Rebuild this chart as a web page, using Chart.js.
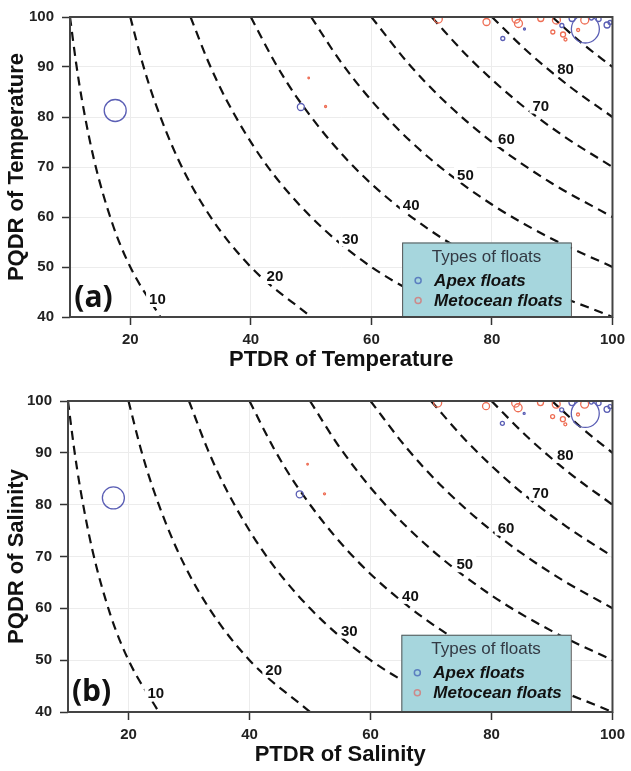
<!DOCTYPE html>
<html>
<head>
<meta charset="utf-8">
<script src="https://cdn.jsdelivr.net/npm/chart.js@4.4.1/dist/chart.umd.min.js"></script>
<style>
body { margin: 0; background: #fff; }
.panel { position: relative; width: 631px; }
canvas { display: block; }
</style>
</head>
<body>
<div class="panel"><canvas id="chartA" width="631" height="378"></canvas></div>
<div class="panel"><canvas id="chartB" width="631" height="393"></canvas></div>
<script>
var xTicks = [20, 40, 60, 80, 100];
var yTicks = [40, 50, 60, 70, 80, 90, 100];

// dashed iso-lines, points
var contourLevels = [10, 20, 30, 40, 50, 60, 70, 80, 90];
var contourX = [
    [10, 11, 12, 14, 17, 20, 25],
    [20, 22, 24, 28, 33, 40, 50],
    [30, 33, 36, 42, 50, 60, 75],
    [40, 44, 48, 56, 66, 80, 100],
    [50, 55, 62, 70, 80, 90, 100],
    [60, 66, 72, 80, 90, 100],
    [70, 76, 84, 92, 100],
    [80, 86, 93, 100],
    [90, 95, 100]
];
var contourY = [
    [100, 90.9, 83.3, 71.4, 58.8, 50, 40],
    [100, 90.9, 83.3, 71.4, 60.6, 50, 40],
    [100, 90.9, 83.3, 71.4, 60, 50, 40],
    [100, 90.9, 83.3, 71.4, 60.6, 50, 40],
    [100, 90.9, 80.6, 71.4, 62.5, 55.6, 50],
    [100, 90.9, 83.3, 75, 66.7, 60],
    [100, 92.1, 83.3, 76.1, 70],
    [100, 93, 86, 80],
    [100, 94.7, 90]
];
var contourLabels = ['10', '20', '30', '40', '50', '60', '70', '80'];
var contourLabelX = [24.5, 44, 56.5, 66.6, 75.6, 82.4, 88.1, 92.2];
var contourLabelY = [43.6, 48.2, 55.7, 62.4, 68.5, 75.6, 82.3, 89.6];

// Apex floats
var apexX = [17.5, 48.3, 81.8, 85.4, 95.5, 93.3, 97.7, 99.1, 99.6, 91.6, 96.5];
var apexY = [81.3, 82.0, 95.7, 97.6, 97.6, 99.7, 99.6, 98.4, 98.9, 98.3, 99.8];
var apexSize = [11, 3.5, 2, 1, 14, 3, 2.5, 3, 2, 2, 2];

// Metocean floats
var metoX = [49.6, 52.4, 71.1, 79.1, 84.0, 84.4, 88.1, 90.7, 90.1, 91.8, 92.2, 94.3, 95.4];
var metoY = [87.8, 82.1, 99.6, 99.0, 99.6, 98.7, 99.7, 99.4, 97.0, 96.5, 95.5, 97.4, 99.4];
var metoSize = [0.8, 1, 4, 3.5, 4, 4, 3, 4, 2, 2.5, 1.5, 1.5, 4];

var FONT = '"Liberation Sans", Arial, sans-serif';
var legendBox = [65.1, 93.1, 40, 54.9];
var letterPos = [13.9, 43.7];

function points(xs, ys, rs) {
    return xs.map(function (x, i) {
        var p = { x: x, y: ys[i] };
        if (rs) p.r = rs[i];
        return p;
    });
}

var overlay = {
    id: 'overlay',
    afterDatasetsDraw: function (chart, args, opts) {
        var ctx = chart.ctx, xs = chart.scales.x, ys = chart.scales.y, a = chart.chartArea;
        ctx.save();

        // contour labels
        ctx.font = 'bold 15px ' + FONT;
        ctx.textAlign = 'center';
        ctx.textBaseline = 'middle';
        contourLabels.forEach(function (t, i) {
            var px = xs.getPixelForValue(contourLabelX[i]);
            var py = ys.getPixelForValue(contourLabelY[i]);
            var w = ctx.measureText(t).width;
            ctx.fillStyle = '#fff';
            ctx.fillRect(px - w / 2 - 3, py - 8, w + 6, 16);
            ctx.fillStyle = '#111';
            ctx.fillText(t, px, py + 1);
        });

        // legend
        var l = xs.getPixelForValue(legendBox[0]), r = xs.getPixelForValue(legendBox[1]);
        var t = ys.getPixelForValue(legendBox[3]), b = ys.getPixelForValue(legendBox[2]);
        ctx.fillStyle = '#a6d6dd';
        ctx.fillRect(l, t, r - l, b - t);
        ctx.strokeStyle = '#555';
        ctx.lineWidth = 1;
        ctx.strokeRect(l + 0.5, t + 0.5, r - l, b - t);
        ctx.fillStyle = '#333a44';
        ctx.font = '17px ' + FONT;
        ctx.fillText('Types of floats', (l + r) / 2, t + 15);
        var items = [['Apex floats', '#5b7fc0'], ['Metocean floats', '#cc8a8a']];
        items.forEach(function (it, i) {
            var yy = t + 38 + i * 20;
            ctx.beginPath();
            ctx.arc(l + 16, yy, 3, 0, Math.PI * 2);
            ctx.strokeStyle = it[1];
            ctx.lineWidth = 1.5;
            ctx.stroke();
            ctx.fillStyle = '#111';
            ctx.textAlign = 'left';
            ctx.font = 'italic bold 17px ' + FONT;
            ctx.fillText(it[0], l + 32, yy + 1);
        });

        // frame
        ctx.strokeStyle = '#444';
        ctx.lineWidth = 2;
        ctx.strokeRect(a.left, a.top, a.right - a.left, a.bottom - a.top);

        // panel letter
        ctx.fillStyle = '#111';
        ctx.textAlign = 'center';
        ctx.font = 'bold 30px "Open Sans", sans-serif';
        ctx.fillText(opts.letter, xs.getPixelForValue(letterPos[0]), ys.getPixelForValue(letterPos[1]));
        ctx.restore();
    }
};

function makeChart(id, letter, xTitle, yTitle, lay) {
    var datasets = contourLevels.map(function (lev, i) {
        return {
            type: 'line',
            label: 'level ' + lev,
            data: points(contourX[i], contourY[i]),
            borderColor: '#111',
            borderWidth: 2.2,
            borderDash: [9, 6],
            pointRadius: 0,
            cubicInterpolationMode: 'monotone',
            fill: false,
            order: 3
        };
    });
    datasets.push({
        type: 'bubble',
        label: 'Metocean floats',
        data: points(metoX, metoY, metoSize),
        backgroundColor: 'rgba(0,0,0,0)',
        borderColor: '#ee6e55',
        borderWidth: 1.3,
        clip: 0,
        order: 1
    });
    datasets.push({
        type: 'bubble',
        label: 'Apex floats',
        data: points(apexX, apexY, apexSize),
        backgroundColor: 'rgba(0,0,0,0)',
        borderColor: '#5b5fb5',
        borderWidth: 1.3,
        clip: 0,
        order: 1
    });

    return new Chart(document.getElementById(id), {
        type: 'scatter',
        data: { datasets: datasets },
        plugins: [overlay],
        options: {
            responsive: false,
            animation: false,
            layout: { padding: { top: lay.top, right: lay.right, left: 0, bottom: 0 } },
            plugins: {
                legend: { display: false },
                tooltip: { enabled: false },
                overlay: { letter: letter }
            },
            scales: {
                x: {
                    type: 'linear',
                    min: 10,
                    max: 100,
                    afterBuildTicks: function (s) { s.ticks = xTicks.map(function (v) { return { value: v }; }); },
                    afterFit: function (s) { s.height = lay.xh; },
                    grid: { color: '#ececec', tickColor: '#333', tickLength: 8, tickWidth: 1.5 },
                    border: { display: false },
                    ticks: { font: { family: FONT, size: 15, weight: 'bold' }, color: '#222', padding: 6, maxRotation: 0 },
                    title: { display: true, text: xTitle, color: '#111', font: { family: FONT, size: 22, weight: 'bold' }, padding: { top: 0, bottom: lay.tb } }
                },
                y: {
                    type: 'linear',
                    min: 40,
                    max: 100,
                    afterBuildTicks: function (s) { s.ticks = yTicks.map(function (v) { return { value: v }; }); },
                    afterFit: function (s) { s.width = lay.yw; },
                    grid: { color: '#ececec', tickColor: '#333', tickLength: 8, tickWidth: 1.5 },
                    border: { display: false },
                    ticks: { font: { family: FONT, size: 15, weight: 'bold' }, color: '#222', padding: 8 },
                    title: { display: true, text: yTitle, color: '#111', font: { family: FONT, size: 22, weight: 'bold' }, padding: { top: 4, bottom: 0 } }
                }
            }
        }
    });
}

makeChart('chartA', '(a)', 'PTDR of Temperature', 'PQDR of Temperature', { top: 12, right: 13, xh: 61, yw: 70, tb: 5 });
makeChart('chartB', '(b)', 'PTDR of Salinity', 'PQDR of Salinity', { top: 23, right: 12, xh: 59, yw: 68, tb: 3 });
</script>
</body>
</html>
